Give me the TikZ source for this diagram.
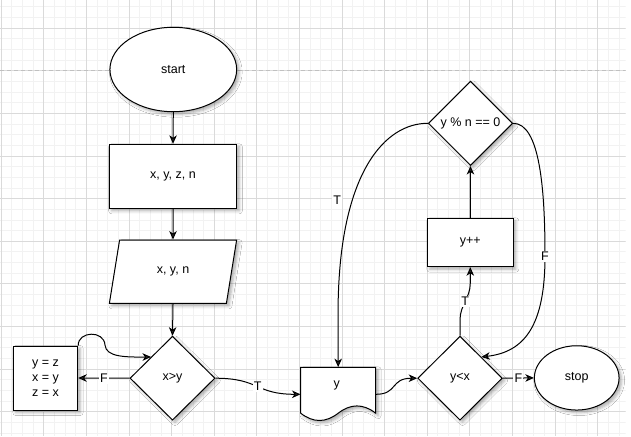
\documentclass[tikz,border=0pt]{standalone}
\usepackage{fontspec}
\setmainfont{Liberation Sans}
\usetikzlibrary{shapes.geometric,arrows.meta,shadows.blur,calc}

\definecolor{gridminor}{RGB}{242,242,242}
\definecolor{gridmajor}{RGB}{218,218,218}
\definecolor{pageline}{RGB}{192,192,192}

\tikzset{
  softshadow/.style={blur shadow={shadow xshift=2.5pt, shadow yshift=-2.5pt,
      shadow blur radius=3pt, shadow opacity=32}},
  box/.style={draw=black, line width=1pt, fill=white, inner sep=0pt,
    font=\fontsize{12.5}{15.3}\selectfont, softshadow},
  term/.style={box, ellipse},
  proc/.style={box, rectangle},
  decide/.style={box, diamond},
  io/.style={box, trapezium, trapezium left angle=71.6,
    trapezium right angle=108.4, trapezium stretches=true},
  flow/.style={line width=1pt, -{Stealth[length=8.5pt,width=7.5pt,inset=2.5pt]}},
  lab/.style={fill=white, inner sep=1.2pt, font=\fontsize{12.5}{15}\selectfont},
  gmin/.style={draw=gridminor, line width=0.8pt},
  gmaj/.style={draw=gridmajor, line width=0.8pt},
}

\begin{document}
\begin{tikzpicture}[x=1pt, y=-1pt]
\useasboundingbox (0,0) rectangle (631,436);
\fill[white] (0,0) rectangle (631,436);

% background grid
\begin{scope}
  \clip (0,0) rectangle (625.5,436);
  \foreach \i in {0,...,58} \draw[gmin] ({1.2+10.65*\i},0) -- ++(0,436);
  \foreach \j in {1,...,41} \draw[gmin] (0,{-3.75+10.65*\j}) -- ++(625.5,0);
  \foreach \i in {0,...,14} \draw[gmaj] ({1.2+42.6*\i},0) -- ++(0,436);
  \foreach \j in {0,...,9} \draw[gmaj] (0,{28.2+42.6*\j}) -- ++(625.5,0);
  \draw[pageline, line width=0.8pt, dash pattern=on 4pt off 3pt] (0,70.8) -- (625.5,70.8);
\end{scope}

% left column
\node[term, minimum width=126.7, minimum height=84.4] (start) at (173.3,69.5) {start};
\node[proc, minimum width=127.7, minimum height=64] (init) at (173,176.3) {x, y, z, n};
\node[io, minimum width=127.7, minimum height=63.3] (input) at (173,271.7) {x, y, n};
\node[decide, minimum width=85, minimum height=84] (dec1) at (172.5,378.2) {x>y};
\node[proc, minimum width=64.4, minimum height=64, align=center] (swap) at (45.5,378)
  {y = z\\x = y\\z = x};

% output document
\draw[line width=1pt, fill=white, softshadow]
  (300.7,367.3) -- (375.7,367.3) -- (375.7,413.2)
  .. controls (363.2,403.5) and (350.7,403.5) .. (338.2,413.2)
  .. controls (325.7,422.9) and (313.2,422.9) .. (300.7,413.2) -- cycle;
\node[inner sep=0pt, minimum width=75, minimum height=54] (doc) at (338.2,394.3) {};
\node[font=\fontsize{12.5}{15}\selectfont] (doctext) at (336.7,385.5) {y};

% right part
\node[decide, minimum width=84.6, minimum height=84] (dec2) at (460,378.2) {y<x};
\node[term, minimum width=84.7, minimum height=64.3] (stop) at (576.7,377.9) {stop};
\node[proc, minimum width=86, minimum height=48.4] (inc) at (470.3,242.5) {y++};
\node[decide, minimum width=84.4, minimum height=84.4] (dec3) at (470.5,123.3) {y \% n == 0};

% connectors
\draw[flow] (start.south) -- (init.north);
\draw[flow] (init.south) -- (input.north);
\draw[flow] (input.south) -- (dec1.north);
\draw[flow] (dec1.west) -- (swap.east) node[lab, pos=0.5] {F};
\draw[flow] (swap.north east) .. controls (78,331) and (104,330) .. (105,345)
  .. controls (106,357) and (125,357.2) .. (dec1.north west);
\draw[flow] (dec1.east) .. controls (260,378.3) and (255,394.3) .. (doc.west)
  node[lab, pos=0.5] {T};
\draw[flow] (doc.east) .. controls (398,394.3) and (390,378.2) .. (dec2.west);
\draw[flow] (dec2.east) -- (stop.west) node[lab, pos=0.5] {F};
\draw[flow] (dec2.north) -- (460,320) .. controls (460,305) and (470.3,298) .. (470.3,283)
  node[lab, pos=0.5] {T} -- (inc.south);
\draw[flow] (inc.north) -- (dec3.south);
\draw[flow] (dec3.west) .. controls (385,123.3) and (341,172) .. (338.2,300)
  node[lab, pos=0.68, xshift=-15pt] {T} -- (doc.north);
\draw[flow] (dec3.east) .. controls (540,123.3) and (545,190) .. (545,256)
  node[lab] {F} .. controls (545,325) and (525,352) .. (dec2.north east);
\end{tikzpicture}
\end{document}
